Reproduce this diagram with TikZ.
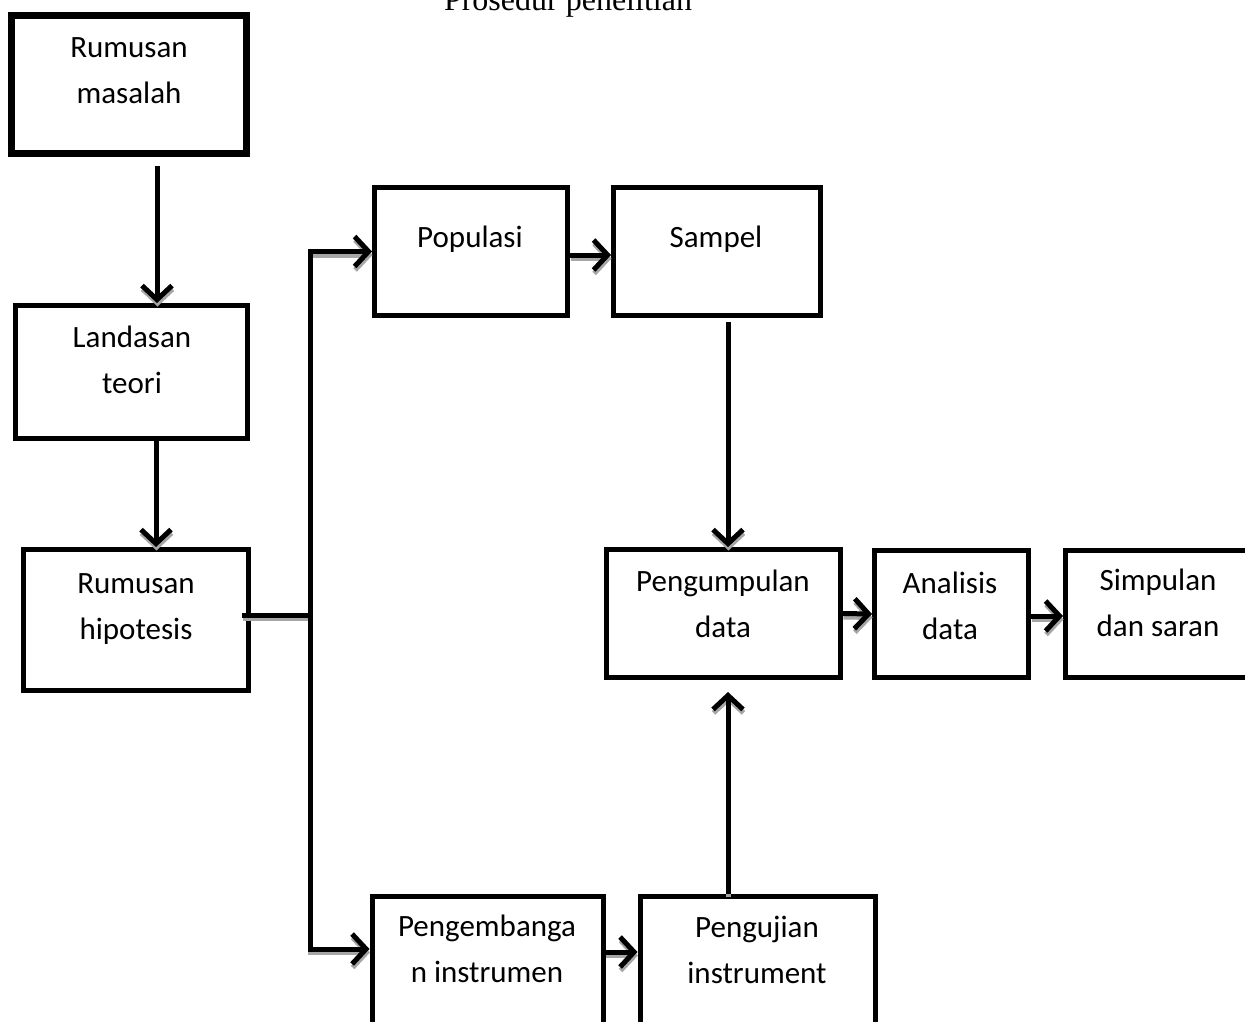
\documentclass[tikz,border=0pt]{standalone}
\usepackage{fontspec}
\setmainfont{Carlito}
\newfontfamily\titlefont{Liberation Serif}
\usetikzlibrary{arrows.meta}
% connectors are drawn twice: once as grey shadow, once in black
\newcommand\drawlinks{%
  \draw[conn] ([xshift=28pt,yshift=-9pt]rm.south) -- ([xshift=25.5pt]lt.north);
  \draw[conn] ([xshift=24.5pt]lt.south) -- ([xshift=20pt]rh.north);
  \draw[line, shorten <=-9pt] (rh.east |- br) -- ([xshift=2.5pt]br);
  \draw[conn] (br) |- (pop.west);
  \draw[conn] (br) |- ([yshift=21.5pt]pi.west);
  \draw[conn] ([yshift=-3.5pt]pop.east) -- ([yshift=-3.5pt]smp.west);
  \draw[conn] ([xshift=11pt,yshift=-4pt]smp.south) -- ([xshift=4.5pt]pd.north);
  \draw[conn] ([xshift=-29.75pt]pu.north) -- ([xshift=4.5pt,yshift=-12pt]pd.south);
  \draw[conn] (pd.east) -- (ad.west);
  \draw[conn] ([yshift=-2pt]ad.east) -- ([yshift=-2pt]ss.west);
  \draw[conn] ([yshift=18.5pt]pi.east) -- ([yshift=18.5pt]pu.west);
}
\begin{document}
\begin{tikzpicture}[
    x = 1pt, y = -1pt,
    box/.style = {draw, line width=5pt, inner sep=0pt},
    txt/.style = {align=center, inner sep=0pt, font=\fontsize{31}{46}\selectfont},
    line/.style = {line width=5pt},
    conn/.style = {line width=5pt, -{Straight Barb[length=14pt,width=30pt,line width=5pt]}},
  ]
  \clip (0,0) rectangle (1245,1021);
  \node[anchor=base, inner sep=0pt, font=\fontsize{32}{38}\titlefont] (ttl) at (568,10) {Prosedur penelitian};

  % left column
  \node[box, line width=7pt, minimum width=235, minimum height=138] (rm) at (129,84.5) {};
  \node[txt] (rm-t) at (129,71) {\strut Rumusan\\\strut masalah};
  \node[box, minimum width=232, minimum height=133] (lt) at (131.5,372) {};
  \node[txt] (lt-t) at (132,361) {\strut Landasan\\\strut teori};
  \node[box, minimum width=225, minimum height=141] (rh) at (136,620) {};
  \node[txt] (rh-t) at (136,607) {\strut Rumusan\\\strut hipotesis};

  % upper row
  \node[box, minimum width=193, minimum height=128] (pop) at (471,251.5) {};
  \node[txt] (pop-t) at (470,238) {\strut Populasi};
  \node[box, minimum width=207, minimum height=128] (smp) at (717,251.5) {};
  \node[txt] (smp-t) at (716,238) {\strut Sampel};

  % middle row
  \node[box, minimum width=234, minimum height=128] (pd) at (723.5,613.5) {};
  \node[txt] (pd-t) at (723,605) {\strut Pengumpulan\\\strut data};
  \node[box, minimum width=154, minimum height=127] (ad) at (951.5,614) {};
  \node[txt] (ad-t) at (950,607) {\strut Analisis\\\strut data};
  \node[box, minimum width=186.5, minimum height=127] (ss) at (1158.75,614) {};
  \node[txt] (ss-t) at (1158,604) {\strut Simpulan\\\strut dan saran};

  % lower row
  \node[box, minimum width=231, minimum height=149] (pi) at (487.5,970.5) {};
  \node[txt] (pi-t) at (487,950) {\strut Pengembanga\\\strut n instrumen};
  \node[box, minimum width=235.5, minimum height=149] (pu) at (757.75,970.5) {};
  \node[txt] (pu-t) at (757,951) {\strut Pengujian\\\strut instrument};

  % connectors
  \coordinate (br) at (310,615);
  \begin{scope}[transform canvas={shift={(0.5pt,-3.5pt)}}, black!35]
    \drawlinks
  \end{scope}
  \drawlinks
\end{tikzpicture}
\end{document}
